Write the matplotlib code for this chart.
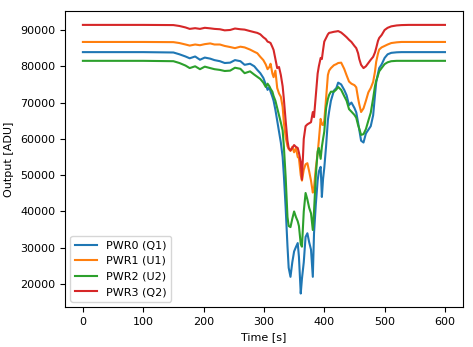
import numpy as np
import matplotlib
matplotlib.use("Agg")
import matplotlib.pyplot as plt

# time axis [s]
t = [0, 50, 100, 150, 160, 170, 177, 186, 194, 202, 211, 218, 227, 235, 244, 252, 261, 268, 277, 284,
     289, 294, 299, 303, 306, 309, 311, 314, 316, 319, 322, 325, 328, 331, 333, 336, 339, 341, 344, 347,
     350, 353, 356, 358, 361, 363, 366, 369, 372, 375, 378, 381, 383, 386, 389, 391, 394, 396, 398, 400,
     403, 406, 408, 411, 416, 420, 423, 428, 433, 437, 441, 445, 450, 453, 456, 458, 461, 465, 469, 473,
     477, 481, 484, 486, 489, 491, 495, 500, 505, 511, 520, 528, 540, 560, 580, 600]

pwr0 = [83900, 83900, 83900, 83800, 83300, 82700, 82200, 82700, 81800, 82400, 82100, 81700, 81400, 80900, 81000, 81700, 81400, 80400, 80700, 80000,
        79000, 78100, 76800, 75000, 73500, 74200, 73000, 71600, 70500, 68000, 65000, 62000, 59000, 55000, 50000, 41000, 30500, 24500, 22000, 26000,
        29000, 30200, 31300, 27500, 17400, 21500, 26000, 33000, 34000, 31500, 29500, 22000, 34000, 42000, 48500, 51000, 52300, 44000, 49000, 52000,
        58000, 65200, 67500, 70500, 73300, 74000, 75500, 75000, 73500, 72000, 69300, 70000, 68500, 67300, 64500, 62500, 59500, 59000, 61500, 62500,
        63500, 66500, 72000, 75500, 78000, 79500, 80500, 82300, 83300, 83700, 83850, 83900, 83900, 83900, 83900, 83900]

pwr1 = [86700, 86700, 86700, 86650, 86400, 86000, 85700, 86000, 85800, 86100, 86300, 86000, 86000, 85600, 85300, 85000, 85400, 85200, 84600, 84000,
        83600, 82600, 81700, 80500, 79200, 79800, 80700, 78000, 77000, 78800, 74000, 72500, 71600, 68800, 64500, 60500, 58000, 57200, 56700, 57800,
        56300, 57500, 55000, 54700, 50000, 48500, 51500, 53000, 53300, 51000, 48500, 45200, 46500, 52000, 56000, 59600, 65500, 64000, 63800, 65000,
        71200, 77600, 78800, 79500, 80300, 80600, 80900, 81000, 79300, 77500, 75800, 75200, 74800, 74200, 71200, 69500, 67400, 68400, 70500, 72800,
        74000, 75700, 78500, 81200, 83500, 84600, 85200, 85600, 86000, 86400, 86600, 86700, 86700, 86700, 86700, 86700]

pwr2 = [81500, 81500, 81500, 81400, 80900, 80200, 79500, 80000, 79200, 79900, 79500, 79200, 79000, 78700, 78800, 79600, 79300, 78100, 78600, 77700,
        77100, 76500, 75500, 74300, 75200, 74500, 73800, 73000, 71800, 70500, 68500, 66500, 64500, 62300, 58000, 49500, 38500, 36000, 35700, 38000,
        40000, 38500, 37300, 36000, 31000, 30300, 40000, 45100, 43300, 41000, 39500, 34900, 40000, 50000, 56500, 57500, 54500, 57800, 60000, 62000,
        68500, 71000, 72100, 73000, 73000, 73600, 74300, 73500, 71800, 70500, 68200, 67500, 66600, 65800, 63800, 62800, 61100, 61300, 62700, 65000,
        67200, 71200, 74500, 76000, 77500, 78600, 79500, 80600, 81100, 81400, 81500, 81500, 81500, 81500, 81500, 81500]

pwr3 = [91400, 91400, 91400, 91350, 91100, 90700, 90300, 90500, 90300, 90600, 90450, 90300, 90200, 89900, 90000, 90400, 90200, 90100, 89700, 89400,
        89200, 88800, 88000, 87500, 86800, 86600, 86400, 85300, 84500, 82000, 79500, 79800, 77600, 74500, 71000, 65000, 59500, 57500, 56800, 57500,
        58300, 57800, 57500, 56200, 53600, 48800, 60000, 63500, 64000, 64300, 64600, 67400, 66000, 72000, 78000, 80000, 82300, 82000, 84500, 86800,
        87800, 88800, 89200, 89300, 89500, 89600, 89700, 89300, 88600, 88000, 87300, 86700, 85600, 85000, 83600, 82000, 80400, 79500, 80000, 80900,
        81800, 82600, 83800, 85000, 87000, 87800, 88600, 90000, 90600, 91000, 91250, 91350, 91400, 91400, 91400, 91400]

labels = ["PWR0 (Q1)", "PWR1 (U1)", "PWR2 (U2)", "PWR3 (Q2)"]

fig, ax = plt.subplots(figsize=(4.73, 3.47), dpi=100)
fig.subplots_adjust(left=0.137, right=0.979, top=0.968, bottom=0.115)

for series, lab in zip([pwr0, pwr1, pwr2, pwr3], labels):
    ax.plot(t, series, label=lab)

ax.set_ylim(13660, 95200)
ax.set_xlabel("Time [s]", fontsize=8)
ax.set_ylabel("Output [ADU]", fontsize=8)
ax.tick_params(labelsize=8)
ax.legend(loc="lower left", fontsize=8)

fig.savefig("out.png", dpi=100)
